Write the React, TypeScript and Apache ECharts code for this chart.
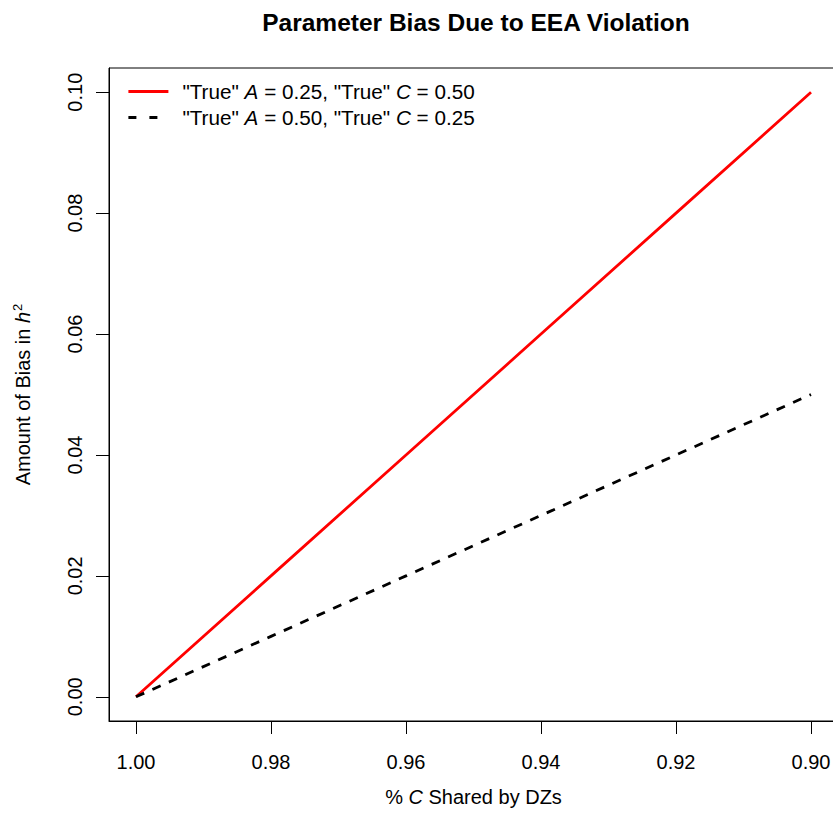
import React, { useEffect, useRef } from "react";
import * as echarts from "echarts";

const xValues = [1.0, 0.98, 0.96, 0.94, 0.92, 0.9];
const redBias = [0.0, 0.02, 0.04, 0.06, 0.08, 0.1];
const blackBias = [0.0, 0.01, 0.02, 0.03, 0.04, 0.05];
const xTicks = [1.0, 0.98, 0.96, 0.94, 0.92, 0.9];
const yTicks = [0.0, 0.02, 0.04, 0.06, 0.08, 0.1];
const seriesNames = ["redSeries", "blackSeries"];
const legendLabels = [
  '"True" {i|A} = 0.25, "True" {i|C} = 0.50',
  '"True" {i|A} = 0.50, "True" {i|C} = 0.25',
];

const FONT = "'Liberation Sans', Arial, Helvetica, sans-serif";
const FS = 20;

export default function App() {
  const ref = useRef<HTMLDivElement>(null);
  useEffect(() => {
    document.body.style.margin = "0";
    if (!ref.current) return;
    const chart = echarts.init(ref.current, null, { renderer: "svg" });
    const toPairs = (ys: number[]) => xValues.map((x, i) => [x, ys[i]]);
    const italic = { fontStyle: "italic", fontFamily: FONT, fontSize: FS, color: "#000" };
    const legendItalic = { ...italic, fontSize: 20.7 };
    const option: any = {
      animation: false,
      backgroundColor: "#ffffff",
      textStyle: { fontFamily: FONT },
      title: {
        text: "Parameter Bias Due to EEA Violation",
        left: 471,
        textAlign: "center",
        top: 5,
        textStyle: { fontFamily: FONT, fontWeight: "bold", fontSize: 24.5, color: "#000" },
      },
      grid: {
        left: 109,
        top: 68,
        width: 729,
        height: 653,
        outerBoundsMode: "none",
        containLabel: false,
        show: true,
        borderColor: "#000",
        borderWidth: 1,
        backgroundColor: "transparent",
      },
      legend: {
        orient: "vertical",
        left: 127,
        top: 81,
        padding: 0,
        itemWidth: 40,
        itemHeight: 14,
        itemGap: 5,
        data: [
          { name: seriesNames[0], itemStyle: { opacity: 0 }, lineStyle: { color: "#ff0000", width: 2.8, type: "solid" } },
          { name: seriesNames[1], itemStyle: { opacity: 0 }, lineStyle: { color: "#000", width: 2.8, type: [8, 13] } },
        ],
        formatter: (name: string) => legendLabels[seriesNames.indexOf(name)],
        textStyle: {
          fontFamily: FONT,
          fontSize: 20.7,
          color: "#000",
          padding: [0, 0, 0, 9],
          rich: { i: legendItalic },
        },
      },
      xAxis: {
        type: "value",
        inverse: true,
        min: 0.896,
        max: 1.004,
        axisLine: { show: true, onZero: false, lineStyle: { color: "#000", width: 1 } },
        axisTick: { show: true, inside: false, length: 13, customValues: xTicks, lineStyle: { color: "#000" } },
        axisLabel: {
          customValues: xTicks,
          formatter: (v: number) => v.toFixed(2),
          margin: 31,
          fontFamily: FONT,
          fontSize: FS,
          color: "#000",
        },
        splitLine: { show: false },
        name: "% {i|C} Shared by DZs",
        nameLocation: "middle",
        nameGap: 66,
        nameTextStyle: {
          fontFamily: FONT,
          fontSize: FS,
          color: "#000",
          rich: { i: italic },
        },
      },
      yAxis: {
        type: "value",
        min: -0.004,
        max: 0.104,
        axisLine: { show: true, onZero: false, lineStyle: { color: "#000", width: 1 } },
        axisTick: { show: true, inside: false, length: 13, customValues: yTicks, lineStyle: { color: "#000" } },
        axisLabel: {
          customValues: yTicks,
          formatter: (v: number) => v.toFixed(2),
          rotate: 90,
          margin: 24,
          fontFamily: FONT,
          fontSize: FS,
          color: "#000",
        },
        splitLine: { show: false },
        name: "Amount of Bias in {i|h}{sup|2}",
        nameLocation: "middle",
        nameRotate: 90,
        nameGap: 75,
        nameTextStyle: {
          fontFamily: FONT,
          fontSize: FS,
          color: "#000",
          rich: {
            i: italic,
            sup: { fontFamily: FONT, fontSize: 13, color: "#000", verticalAlign: "top", padding: [0, 0, 10, 1] },
          },
        },
      },
      series: [
        {
          name: seriesNames[0],
          type: "line",
          data: toPairs(redBias),
          symbol: "none",
          showSymbol: false,
          lineStyle: { color: "#ff0000", width: 2.8, type: "solid" },
          itemStyle: { color: "#ff0000" },
        },
        {
          name: seriesNames[1],
          type: "line",
          data: toPairs(blackBias),
          symbol: "none",
          showSymbol: false,
          lineStyle: { color: "#000", width: 2.8, type: [9, 9] },
          itemStyle: { color: "#000" },
        },
      ],
    };
    chart.setOption(option);
    return () => chart.dispose();
  }, []);
  return <div ref={ref} style={{ width: 833, height: 820 }} />;
}
